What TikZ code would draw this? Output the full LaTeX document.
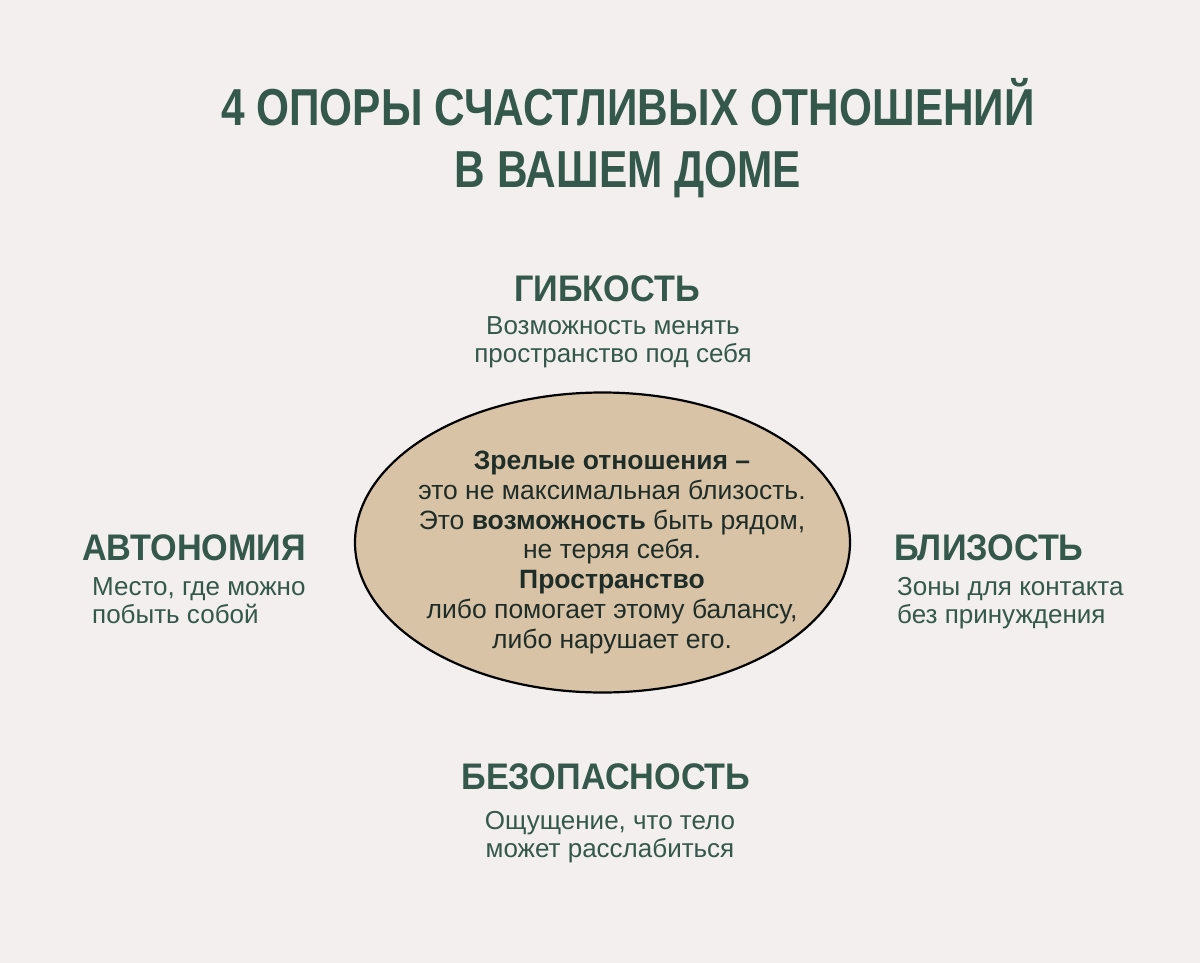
\documentclass[tikz,border=0pt]{standalone}
\usepackage{fontspec}
\setmainfont{Liberation Sans}
\usetikzlibrary{shapes.geometric,positioning}

\definecolor{pagebg}{HTML}{F2EFEE}
\definecolor{pine}{HTML}{34584C}
\definecolor{sand}{HTML}{D8C3A6}
\definecolor{ink}{HTML}{1F2D28}

\tikzset{
  headline/.style={text=pine,font=\fontsize{52}{62}\selectfont\bfseries,align=center,xscale=0.815,inner sep=0pt},
  pillar/.style={text=pine,font=\fontsize{37}{40}\selectfont\bfseries,xscale=0.925,inner sep=0pt},
  note/.style={text=pine,font=\fontsize{26}{28.5}\selectfont,inner sep=0pt},
}

\begin{document}
\begin{tikzpicture}[x=1pt,y=-1pt]
            \fill[pagebg] (0,0) rectangle (1200,963);
            \useasboundingbox (0,0) rectangle (1200,963);

            % title (base = last line)
            \node[headline,anchor=base] (title) at (628,187)
              {4 ОПОРЫ СЧАСТЛИВЫХ ОТНОШЕНИЙ\\В ВАШЕМ ДОМЕ};

            % centre
            \node[ellipse,draw=black,line width=2.2pt,fill=sand,
                  minimum width=495pt,minimum height=300pt,inner sep=0pt] (core) at (602.5,542.5) {};
            \node[anchor=base,align=center,text=ink,inner sep=0pt,
                  font=\fontsize{26.5}{29.7}\selectfont] (coretext) at (612,648)
              {\textbf{Зрелые отношения –}\\
               это не максимальная близость.\\
               Это \textbf{возможность} быть рядом,\\
               не теряя себя.\\
               \textbf{Пространство}\\
               либо помогает этому балансу,\\
               либо нарушает его.};

            % top
            \node[pillar,anchor=base] (flex) at (607,301) {ГИБКОСТЬ};
            \node[note,anchor=base,align=center] (flexnote) at (613,362.5)
              {Возможность менять\\пространство под себя};

            % left
            \node[pillar,anchor=base west] (auto) at (82,560) {АВТОНОМИЯ};
            \node[note,anchor=base west,align=left] (autonote) at (92,623.5)
              {Место, где можно\\побыть собой};

            % right
            \node[pillar,anchor=base west] (close) at (894,560) {БЛИЗОСТЬ};
            \node[note,anchor=base west,align=left] (closenote) at (897,623.5)
              {Зоны для контакта\\без принуждения};

            % bottom
            \node[pillar,anchor=base] (safe) at (606,789) {БЕЗОПАСНОСТЬ};
            \node[note,anchor=base,align=center] (safenote) at (610,857.5)
              {Ощущение, что тело\\может расслабиться};
\end{tikzpicture}
\end{document}
